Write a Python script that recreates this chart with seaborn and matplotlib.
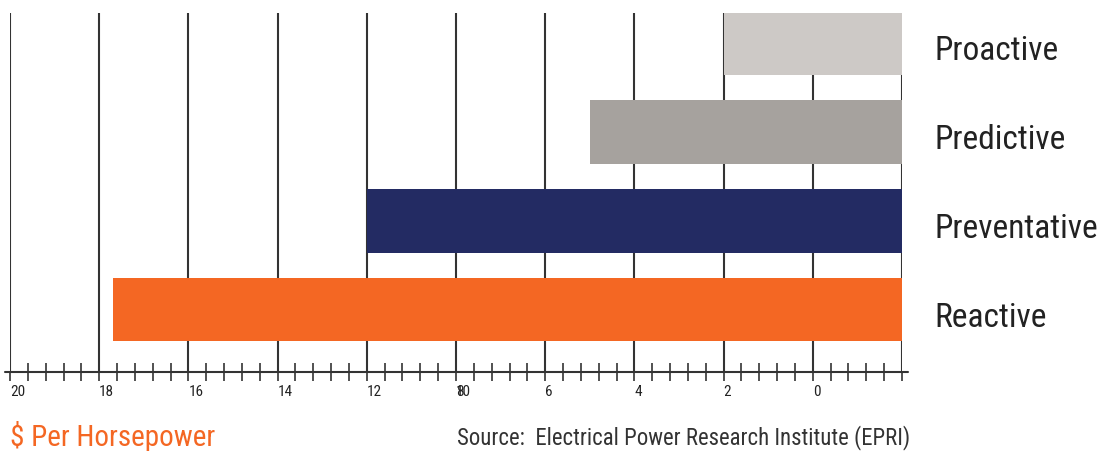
import numpy as np
import pandas as pd
import matplotlib
matplotlib.use("Agg")
import matplotlib.pyplot as plt
import seaborn as sns
from matplotlib import font_manager
from matplotlib.lines import Line2D
from matplotlib.patheffects import AbstractPathEffect
from matplotlib.transforms import Affine2D, ScaledTranslation, blended_transform_factory

# Annual maintenance cost by strategy, $ per horsepower
methods = ["Proactive", "Predictive", "Preventative", "Reactive"]
cost_per_hp = [4.0, 7.0, 12.0, 17.7]
bar_colors = ["#cdc9c6", "#a6a29e", "#232b63", "#f46723"]

# Axis ticks (scale runs right to left)
tick_values = [20, 18, 16, 14, 12, 10, 8, 6, 4, 2, 0]
tick_labels = ["20", "18", "16", "14", "12", "10", "6", "4", "2", "0", ""]
extra_tick_value = [10]
extra_tick_label = ["8"]

unit_label = "$ Per Horsepower"
source_note = "Source:  Electrical Power Research Institute (EPRI)"

INK = "#333333"
TEXT = "#222222"
ORANGE = "#f46723"

sns.set_theme(style="white")

installed = {f.name for f in font_manager.fontManager.ttflist}
if "Roboto Condensed" in installed:
    family, squeeze = "Roboto Condensed", 1.0
else:
    family, squeeze = "Roboto", 0.87
plt.rcParams["font.family"] = [family, "DejaVu Sans"]


class Condense(AbstractPathEffect):
    """Narrow the glyphs horizontally, anchored at the text's left edge."""

    def __init__(self, sx):
        super().__init__()
        self.sx = sx

    def draw_path(self, renderer, gc, tpath, affine, rgbFace=None):
        renderer.draw_path(gc, tpath, Affine2D().scale(self.sx, 1.0) + affine, rgbFace)


effects = [Condense(squeeze)] if squeeze != 1.0 else []

fig = plt.figure(figsize=(11, 4.51), dpi=100)
fig.patch.set_facecolor("white")
ax = fig.add_axes([10 / 1100, 79 / 451, 892 / 1100, 359 / 451])

df = pd.DataFrame({"method": methods, "cost": cost_per_hp})
sns.barplot(
    data=df, x="cost", y="method", hue="method", order=methods, hue_order=methods,
    palette=bar_colors, orient="h", width=0.713, saturation=1, linewidth=0,
    legend=False, ax=ax, zorder=2,
)

ax.set_xlim(20, 0)
ax.set_ylim(3.70, -0.34)
ax.set_xlabel("")
ax.set_ylabel("")
for side in ["top", "right", "left", "bottom"]:
    ax.spines[side].set_visible(False)

# Vertical rules at the major ticks, behind the bars
ax.set_axisbelow(True)
ax.grid(True, axis="x", which="major", color=INK, linewidth=1.5)
ax.grid(False, axis="y")

ax.set_xticks(tick_values, labels=tick_labels, ha="left")
ax.set_xticks(np.linspace(0, 20, 51), minor=True)
ax.tick_params(axis="x", which="major", direction="out", length=6.5, width=1.2,
               color=INK, pad=3, labelsize=11, labelcolor=TEXT, bottom=True)
ax.tick_params(axis="x", which="minor", direction="inout", length=13, width=1.2,
               color=INK, bottom=True)
ax.tick_params(axis="y", left=False, labelleft=False)
if effects:
    plt.setp(ax.get_xticklabels(), path_effects=effects)

# Second label sharing the 10 position
sec = ax.secondary_xaxis("bottom")
sec.set_xticks(extra_tick_value, labels=extra_tick_label, ha="left")
sec.tick_params(axis="x", which="major", direction="out", length=6.5, width=0,
                pad=3, labelsize=11, labelcolor=TEXT)
sec.tick_params(axis="x", which="minor", bottom=False)
for s in sec.spines.values():
    s.set_visible(False)
if effects:
    plt.setp(sec.get_xticklabels(), path_effects=effects)

# Baseline running slightly past both ends
ax.add_line(Line2D([-0.006, 1.007], [0, 0], transform=ax.transAxes, clip_on=False,
                   color=INK, linewidth=1.5, zorder=3))

# Category names to the right of the bars
label_tf = blended_transform_factory(ax.transAxes, ax.transData) + \
    ScaledTranslation(0, -0.17, fig.dpi_scale_trans)
centers = [p.get_y() + p.get_height() / 2 for p in ax.patches[:len(methods)]]
for name, yc in zip(methods, centers):
    fig.text(924 / 892, yc, name, transform=label_tf, ha="left", va="baseline",
             fontsize=24, color=TEXT, path_effects=effects)

fig.text(10 / 1100, 5 / 451, unit_label, ha="left", va="baseline",
         fontsize=21, color=ORANGE, path_effects=effects)
fig.text(457 / 1100, 7 / 451, source_note, ha="left", va="baseline",
         fontsize=16.4, color=INK, path_effects=effects)

fig.savefig("out.png", dpi=100, facecolor="white")
